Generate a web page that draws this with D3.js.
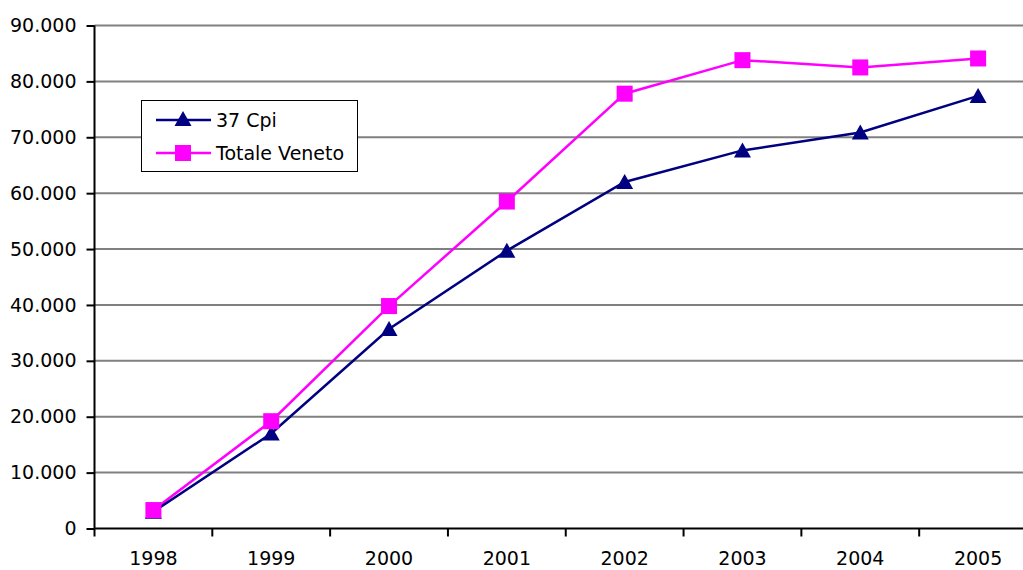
<!DOCTYPE html>
<html><head><meta charset="utf-8">
<script src="https://cdn.jsdelivr.net/npm/d3@7"></script>
<style>body{margin:0;background:#fff;}svg{display:block;}text{font-family:"DejaVu Sans",Verdana,sans-serif;}</style>
</head><body><svg id="c" width="1023" height="570"></svg>
<script>
const years = ["1998","1999","2000","2001","2002","2003","2004","2005"];
const cpi37 = [3000, 17000, 35700, 49700, 62000, 67650, 70850, 77400];
const veneto = [3300, 19200, 39800, 58500, 77800, 83800, 82500, 84100];
const yTicks = [0,10000,20000,30000,40000,50000,60000,70000,80000,90000];
const seriesNames = ["37 Cpi","Totale Veneto"];

const svg = d3.select("#c");
const pL = 94.5, pR = 1037, pT = 25.5, pB = 528.5;
const x = d3.scaleBand().domain(years).range([pL, pR]);
const y = d3.scaleLinear().domain([0, 90000]).range([pB, pT]);
const fmt = v => v === 0 ? "0" : d3.format(",")(v).replace(/,/g, ".");
const FS = 19;

// gridlines
svg.append("g").selectAll("line").data(yTicks.filter(d => d > 0)).join("line")
  .attr("x1", pL).attr("x2", 1023).attr("y1", d => y(d)).attr("y2", d => y(d))
  .attr("stroke", "#808080").attr("stroke-width", 2);

// y axis
const ya = svg.append("g").attr("transform", `translate(${pL},0)`)
  .call(d3.axisLeft(y).tickValues(yTicks).tickFormat(fmt).tickSize(8).tickPadding(10));
ya.select(".domain").attr("stroke", "#000").attr("stroke-width", 2).attr("d", `M0,${pT}V${pB}`);
ya.selectAll(".tick line").attr("stroke", "#000").attr("stroke-width", 2);
ya.selectAll(".tick text").attr("font-size", FS).attr("fill", "#000")
  .attr("font-family", "DejaVu Sans, Verdana, sans-serif");

// x axis
const xa = svg.append("g").attr("transform", `translate(0,${pB})`)
  .call(d3.axisBottom(x).tickSize(0).tickPadding(23));
xa.select(".domain").attr("stroke", "#000").attr("stroke-width", 2).attr("d", `M${pL},0H1023`);
xa.selectAll(".tick text").attr("font-size", FS).attr("fill", "#000")
  .attr("font-family", "DejaVu Sans, Verdana, sans-serif");
svg.append("g").selectAll("line").data(years).join("line")
  .attr("x1", d => x(d)).attr("x2", d => x(d)).attr("y1", pB).attr("y2", pB + 8)
  .attr("stroke", "#000").attr("stroke-width", 2);

const cx = (d, i) => x(years[i]) + x.bandwidth() / 2;
const line = d3.line().x((d, i) => cx(d, i)).y(d => y(d));
const triPath = (px, py) => `M${px},${py-8}L${px+8.5},${py+7}L${px-8.5},${py+7}Z`;

// Totale Veneto
svg.append("path").datum(veneto).attr("d", line).attr("fill", "none")
  .attr("stroke", "#FF00FF").attr("stroke-width", 2.5);
// 37 Cpi
svg.append("path").datum(cpi37).attr("d", line).attr("fill", "none")
  .attr("stroke", "#000080").attr("stroke-width", 2.5);
svg.append("g").selectAll("path").data(cpi37).join("path")
  .attr("d", (d, i) => triPath(cx(d, i), y(d))).attr("fill", "#000080");
svg.append("g").selectAll("rect").data(veneto).join("rect")
  .attr("x", (d, i) => cx(d, i) - 8).attr("y", d => y(d) - 8)
  .attr("width", 16).attr("height", 16).attr("fill", "#FF00FF");

// legend
const lg = svg.append("g");
lg.append("rect").attr("x", 141.5).attr("y", 100.5).attr("width", 216).attr("height", 71)
  .attr("fill", "#fff").attr("stroke", "#000").attr("stroke-width", 1);
const rows = [{name: seriesNames[0], c: "#000080", yy: 120}, {name: seriesNames[1], c: "#FF00FF", yy: 153}];
rows.forEach((r, i) => {
  lg.append("line").attr("x1", 156).attr("x2", 211).attr("y1", r.yy).attr("y2", r.yy)
    .attr("stroke", r.c).attr("stroke-width", 2.5);
  if (i === 0) lg.append("path").attr("d", triPath(183, r.yy - 1)).attr("fill", r.c);
  else lg.append("rect").attr("x", 175).attr("y", r.yy - 8).attr("width", 16).attr("height", 16).attr("fill", r.c);
  lg.append("text").attr("x", 216).attr("y", r.yy + 7).attr("font-size", FS).attr("fill", "#000").text(r.name);
});
</script></body></html>
